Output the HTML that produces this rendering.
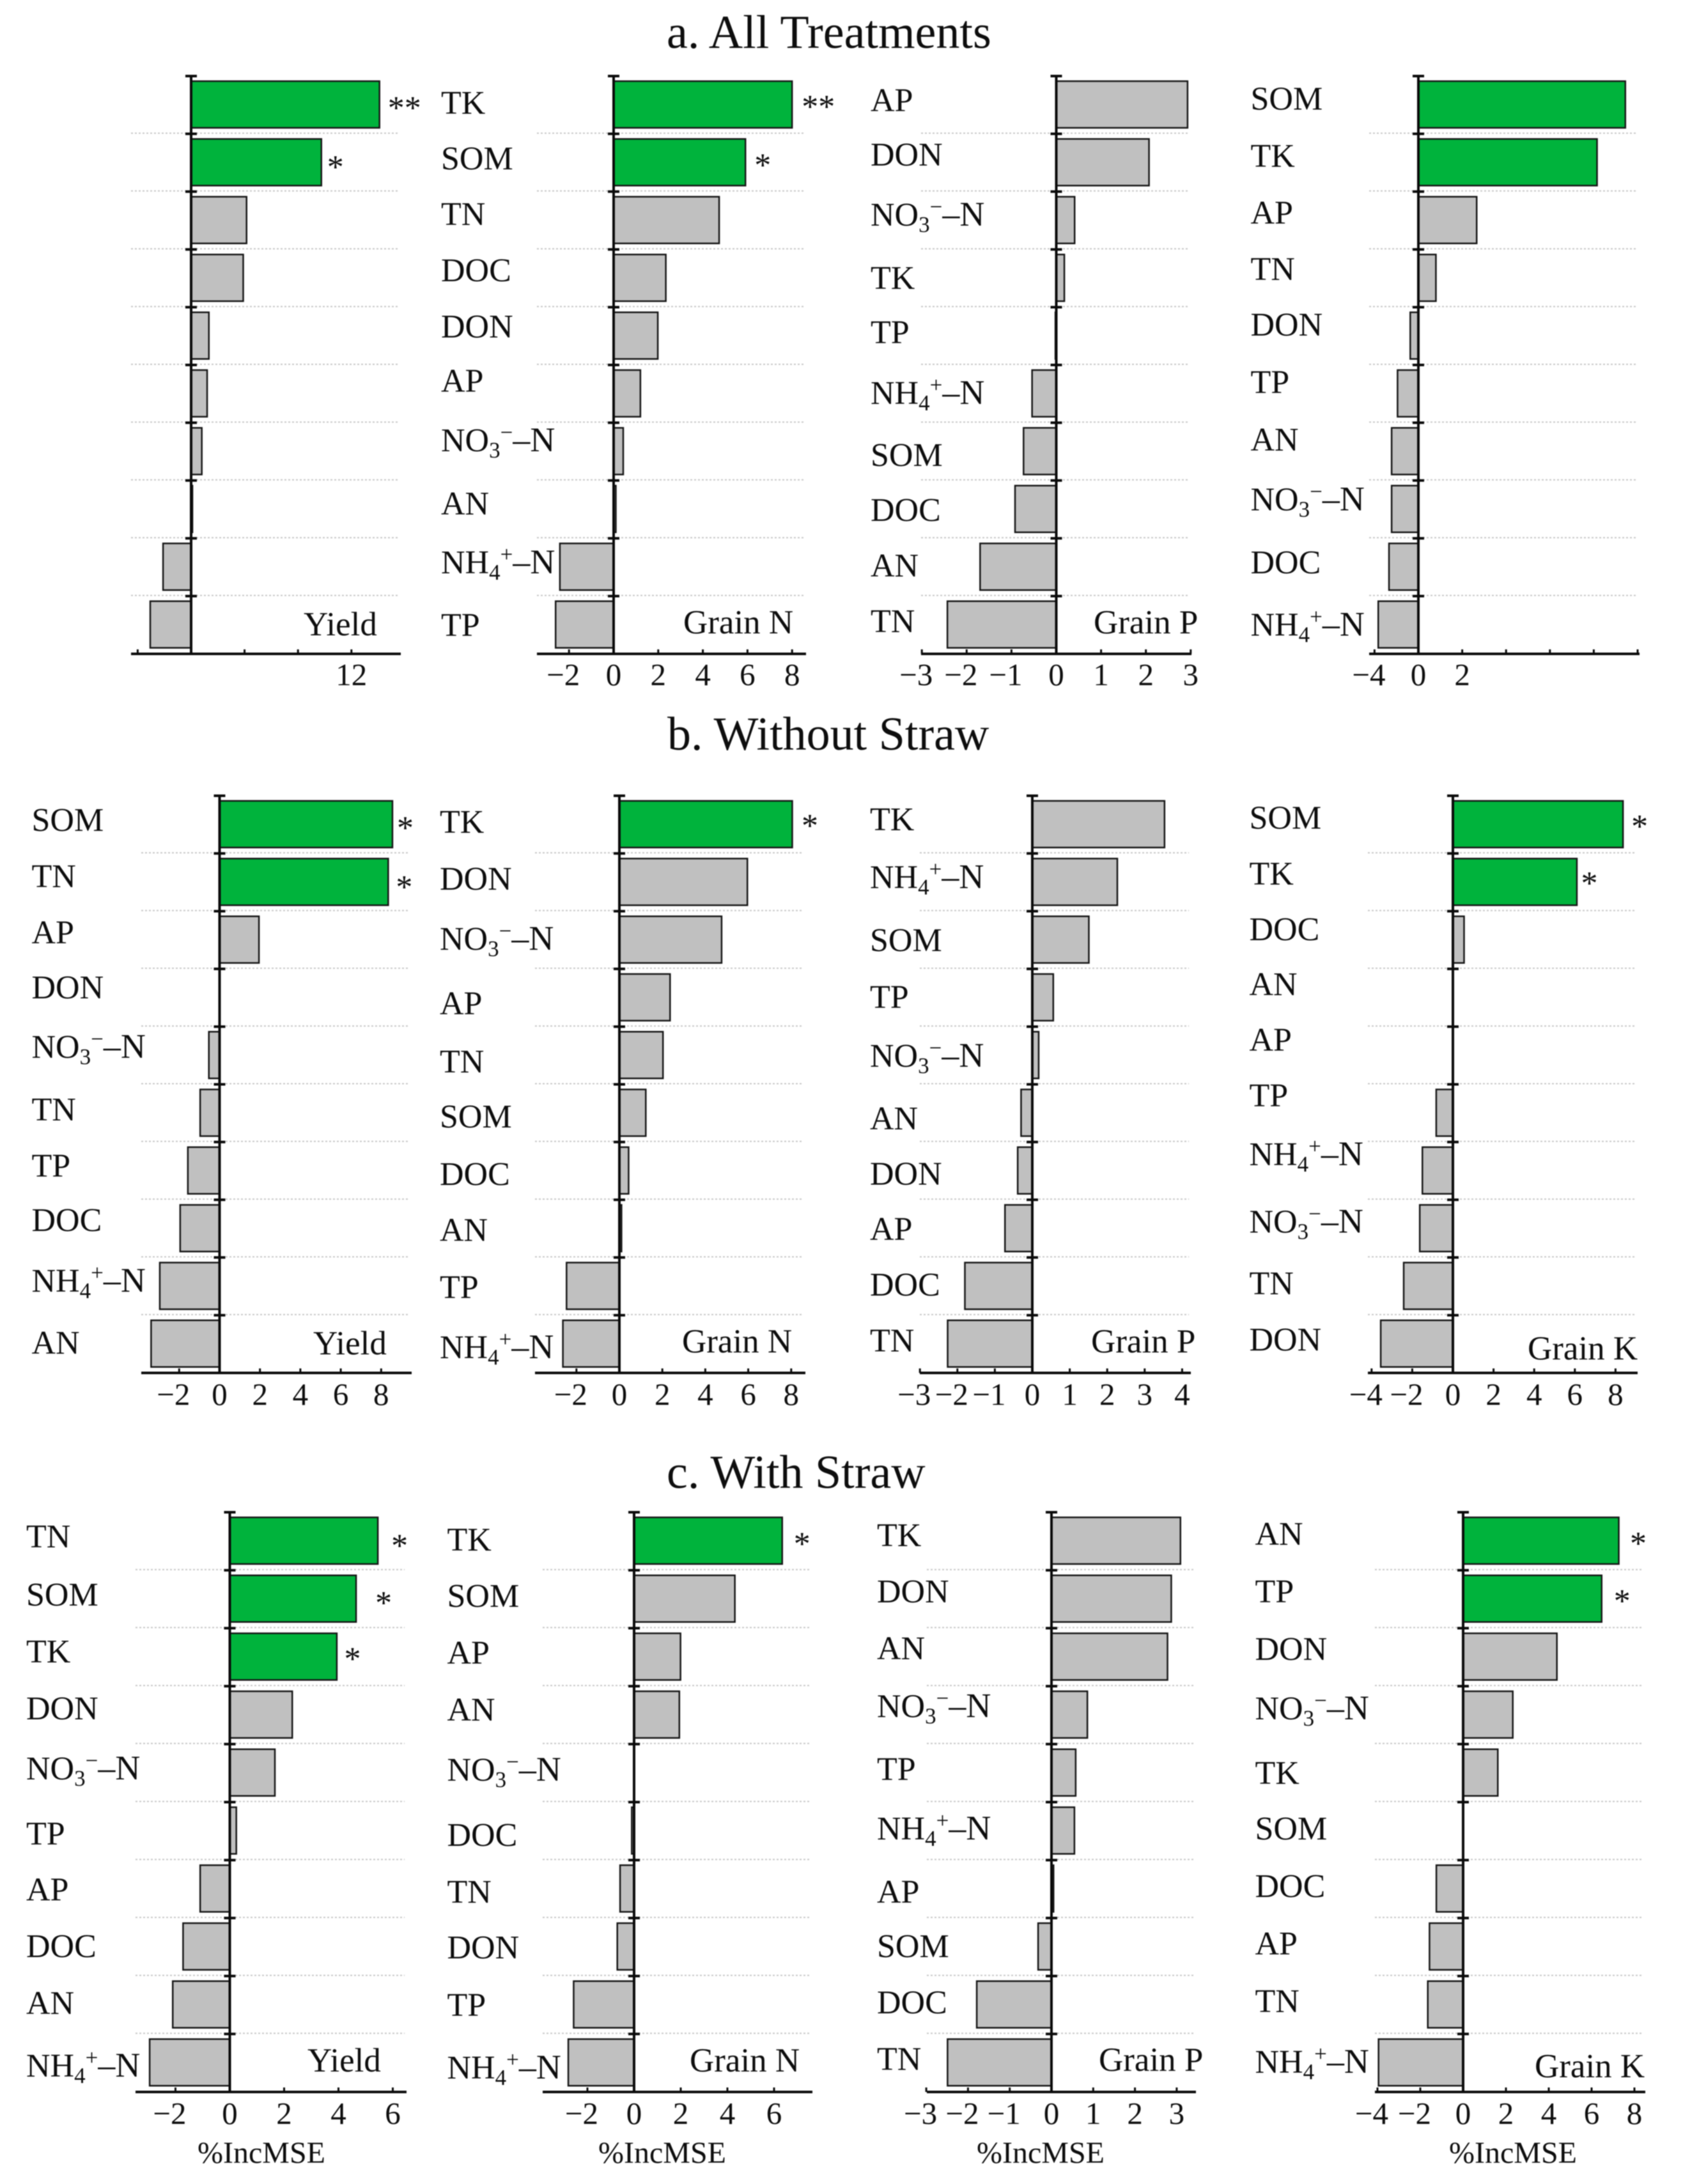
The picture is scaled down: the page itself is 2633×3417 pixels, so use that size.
<!DOCTYPE html>
<html lang="en">
<head>
<meta charset="utf-8">
<title>%IncMSE of soil properties</title>
<style>
html,body{margin:0;padding:0;background:#fff;}
#chart{display:block;filter:blur(0.7px);font-family:"Liberation Serif",serif;fill:#0d0d0d;}
</style>
</head>
<body>
<svg id="chart" xmlns="http://www.w3.org/2000/svg" width="2633" height="3417" viewBox="0 0 2633 3417">
<rect x="0" y="0" width="2633" height="3417" fill="#ffffff"/>
<text x="1043" y="75" font-size="74">a. All Treatments</text>
<text x="1044" y="1173" font-size="74">b. Without Straw</text>
<text x="1043" y="2328" font-size="74">c. With Straw</text>
</svg>
<script>
// ---------- Data: section a (All Treatments) ----------
const a1Categories = [];
const a1Values = [14.1, 9.75, 4.15, 3.9, 1.33, 1.2, 0.8, 0.1, -2.1, -3.06];
const a1Stars = ['**', '*', '', '', '', '', '', '', '', ''];
const a1Highlighted = [true, true, false, false, false, false, false, false, false, false];
const a1Ticks = [-4, 0, 4, 8, 12];
const a1TickLabels = ['', '', '', '', '12'];

const a2Categories = ['TK', 'SOM', 'TN', 'DOC', 'DON', 'AP', 'NO3-N', 'AN', 'NH4-N', 'TP'];
const a2Values = [8, 5.91, 4.73, 2.34, 1.98, 1.2, 0.43, 0.1, -2.41, -2.6];
const a2Stars = ['**', '*', '', '', '', '', '', '', '', ''];
const a2Highlighted = [true, true, false, false, false, false, false, false, false, false];
const a2Ticks = [-2, 0, 2, 4, 6, 8];
const a2TickLabels = ['\u22122', '0', '2', '4', '6', '8'];

const a3Categories = ['AP', 'DON', 'NO3-N', 'TK', 'TP', 'NH4-N', 'SOM', 'DOC', 'AN', 'TN'];
const a3Values = [2.93, 2.07, 0.41, 0.18, -0.02, -0.54, -0.73, -0.92, -1.7, -2.43];
const a3Stars = ['', '', '', '', '', '', '', '', '', ''];
const a3Highlighted = [false, false, false, false, false, false, false, false, false, false];
const a3Ticks = [-3, -2, -1, 0, 1, 2, 3];
const a3TickLabels = ['\u22123', '\u22122', '\u22121', '0', '1', '2', '3'];

const a4Categories = ['SOM', 'TK', 'AP', 'TN', 'DON', 'TP', 'AN', 'NO3-N', 'DOC', 'NH4-N'];
const a4Values = [9.44, 8.15, 2.66, 0.8, -0.37, -0.95, -1.22, -1.22, -1.34, -1.83];
const a4Stars = ['', '', '', '', '', '', '', '', '', ''];
const a4Highlighted = [true, true, false, false, false, false, false, false, false, false];
const a4Ticks = [-2, 0, 2, 4, 6, 8, 10];
const a4TickLabels = ['\u22124', '0', '2', '', '', '', ''];

// ---------- Data: section b (Without Straw) ----------
const b1Categories = ['SOM', 'TN', 'AP', 'DON', 'NO3-N', 'TN', 'TP', 'DOC', 'NH4-N', 'AN'];
const b1Values = [8.56, 8.35, 1.95, 0, -0.53, -0.96, -1.57, -1.95, -2.96, -3.39];
const b1Stars = ['*', '*', '', '', '', '', '', '', '', ''];
const b1Highlighted = [true, true, false, false, false, false, false, false, false, false];
const b1Ticks = [-2, 0, 2, 4, 6, 8];
const b1TickLabels = ['\u22122', '0', '2', '4', '6', '8'];

const b2Categories = ['TK', 'DON', 'NO3-N', 'AP', 'TN', 'SOM', 'DOC', 'AN', 'TP', 'NH4-N'];
const b2Values = [8.05, 5.96, 4.76, 2.36, 2.03, 1.23, 0.43, 0.1, -2.46, -2.63];
const b2Stars = ['*', '', '', '', '', '', '', '', '', ''];
const b2Highlighted = [true, false, false, false, false, false, false, false, false, false];
const b2Ticks = [-2, 0, 2, 4, 6, 8];
const b2TickLabels = ['\u22122', '0', '2', '4', '6', '8'];

const b3Categories = ['TK', 'NH4-N', 'SOM', 'TP', 'NO3-N', 'AN', 'DON', 'AP', 'DOC', 'TN'];
const b3Values = [3.53, 2.27, 1.51, 0.56, 0.17, -0.3, -0.39, -0.73, -1.8, -2.26];
const b3Stars = ['', '', '', '', '', '', '', '', '', ''];
const b3Highlighted = [false, false, false, false, false, false, false, false, false, false];
const b3Ticks = [-3, -2, -1, 0, 1, 2, 3, 4];
const b3TickLabels = ['\u22123', '\u22122', '\u22121', '0', '1', '2', '3', '4'];

const b4Categories = ['SOM', 'TK', 'DOC', 'AN', 'AP', 'TP', 'NH4-N', 'NO3-N', 'TN', 'DON'];
const b4Values = [8.37, 6.1, 0.55, 0, 0, -0.82, -1.5, -1.63, -2.42, -3.55];
const b4Stars = ['*', '*', '', '', '', '', '', '', '', ''];
const b4Highlighted = [true, true, false, false, false, false, false, false, false, false];
const b4Ticks = [-4, -2, 0, 2, 4, 6, 8];
const b4TickLabels = ['\u22124', '\u22122', '0', '2', '4', '6', '8'];

// ---------- Data: section c (With Straw) ----------
const c1Categories = ['TN', 'SOM', 'TK', 'DON', 'NO3-N', 'TP', 'AP', 'DOC', 'AN', 'NH4-N'];
const c1Values = [5.45, 4.65, 3.94, 2.3, 1.66, 0.24, -1.09, -1.72, -2.1, -2.95];
const c1Stars = ['*', '*', '*', '', '', '', '', '', '', ''];
const c1Highlighted = [true, true, true, false, false, false, false, false, false, false];
const c1Ticks = [-2, 0, 2, 4, 6];
const c1TickLabels = ['\u22122', '0', '2', '4', '6'];

const c2Categories = ['TK', 'SOM', 'AP', 'AN', 'NO3-N', 'DOC', 'TN', 'DON', 'TP', 'NH4-N'];
const c2Values = [6.35, 4.32, 1.99, 1.94, 0, -0.1, -0.6, -0.72, -2.59, -2.82];
const c2Stars = ['*', '', '', '', '', '', '', '', '', ''];
const c2Highlighted = [true, false, false, false, false, false, false, false, false, false];
const c2Ticks = [-2, 0, 2, 4, 6];
const c2TickLabels = ['\u22122', '0', '2', '4', '6'];

const c3Categories = ['TK', 'DON', 'AN', 'NO3-N', 'TP', 'NH4-N', 'AP', 'SOM', 'DOC', 'TN'];
const c3Values = [3.09, 2.87, 2.78, 0.86, 0.58, 0.55, 0.05, -0.32, -1.79, -2.49];
const c3Stars = ['', '', '', '', '', '', '', '', '', ''];
const c3Highlighted = [false, false, false, false, false, false, false, false, false, false];
const c3Ticks = [-3, -2, -1, 0, 1, 2, 3];
const c3TickLabels = ['\u22123', '\u22122', '\u22121', '0', '1', '2', '3'];

const c4Categories = ['AN', 'TP', 'DON', 'NO3-N', 'TK', 'SOM', 'DOC', 'AP', 'TN', 'NH4-N'];
const c4Values = [7.27, 6.47, 4.38, 2.32, 1.62, 0, -1.25, -1.57, -1.65, -3.95];
const c4Stars = ['*', '*', '', '', '', '', '', '', '', ''];
const c4Highlighted = [true, true, false, false, false, false, false, false, false, false];
const c4Ticks = [-4, -2, 0, 2, 4, 6, 8];
const c4TickLabels = ['\u22124', '\u22122', '0', '2', '4', '6', '8'];

// ---------- Layout (geometry only, separate from the data) ----------
const rowA = {top: 119, rowH: 90.4, tickBase: 1072};
const rowB = {top: 1245, rowH: 90.3, tickBase: 2198};
const rowC = {top: 2366, rowH: 90.7, tickBase: 3323};

const panels = [
  {id:'a-yield', row:rowA, cats:a1Categories, vals:a1Values, stars:a1Stars, hi:a1Highlighted, ticks:a1Ticks, tickText:a1TickLabels,
   zero:299, unit:20.9, left:205, right:627, labelX:690, labelY:[],
   title:'Yield', titleX:475, titleY:994, starShift:[[39,-2],[22,0]]},
  {id:'a-grain-n', row:rowA, cats:a2Categories, vals:a2Values, stars:a2Stars, hi:a2Highlighted, ticks:a2Ticks, tickText:a2TickLabels,
   zero:960, unit:34.9, left:840, right:1261, labelX:690, labelY:[178,265,352,440,528,613,706,805,897,995],
   title:'Grain N', titleX:1069, titleY:991, starShift:[[41,-4],[27,-3]]},
  {id:'a-grain-p', row:rowA, cats:a3Categories, vals:a3Values, stars:a3Stars, hi:a3Highlighted, ticks:a3Ticks, tickText:a3TickLabels,
   zero:1652.5, unit:70.1, left:1441, right:1864, labelX:1362, labelY:[174,259,353,452,537,632,729,815,902,989],
   title:'Grain P', titleX:1711, titleY:991, starShift:[]},
  {id:'a-grain-k', row:rowA, cats:a4Categories, vals:a4Values, stars:a4Stars, hi:a4Highlighted, ticks:a4Ticks, tickText:a4TickLabels,
   zero:2219, unit:34.3, left:2142, right:2565, labelX:1956.5, labelY:[171.5,261,350,438,525,615,705,798.5,897,994.5],
   title:'', titleX:0, titleY:0, starShift:[]},

  {id:'b-yield', row:rowB, cats:b1Categories, vals:b1Values, stars:b1Stars, hi:b1Highlighted, ticks:b1Ticks, tickText:b1TickLabels,
   zero:343.5, unit:31.6, left:221, right:644, labelX:49.5, labelY:[1300,1388,1476,1562,1655,1753,1841,1926,2021,2118],
   title:'Yield', titleX:490, titleY:2119, starShift:[[20,-1.5],[25,0.5]]},
  {id:'b-grain-n', row:rowB, cats:b2Categories, vals:b2Values, stars:b2Stars, hi:b2Highlighted, ticks:b2Ticks, tickText:b2TickLabels,
   zero:969, unit:33.6, left:837, right:1260, labelX:688, labelY:[1303,1392,1486,1587,1678,1764,1854,1941.5,2031,2125],
   title:'Grain N', titleX:1067, titleY:2116, starShift:[[27.5,-5]]},
  {id:'b-grain-p', row:rowB, cats:b3Categories, vals:b3Values, stars:b3Stars, hi:b3Highlighted, ticks:b3Ticks, tickText:b3TickLabels,
   zero:1615, unit:58.6, left:1439, right:1863, labelX:1361, labelY:[1299,1389.5,1488,1577,1669,1767,1853.6,1940,2027,2114.5],
   title:'Grain P', titleX:1707, titleY:2116, starShift:[]},
  {id:'b-grain-k', row:rowB, cats:b4Categories, vals:b4Values, stars:b4Stars, hi:b4Highlighted, ticks:b4Ticks, tickText:b4TickLabels,
   zero:2273, unit:31.8, left:2140, right:2562, labelX:1954.5, labelY:[1296.5,1384,1471,1557,1644,1731,1823,1928.5,2025,2113],
   title:'Grain K', titleX:2390, titleY:2127, starShift:[[26,-4],[19.5,-5.5]]},

  {id:'c-yield', row:rowC, cats:c1Categories, vals:c1Values, stars:c1Stars, hi:c1Highlighted, ticks:c1Ticks, tickText:c1TickLabels,
   zero:359.5, unit:42.5, left:212, right:636, labelX:41, labelY:[2421,2512,2601,2690,2784,2886,2973.5,3062,3151,3249],
   title:'Yield', titleX:481, titleY:3241, starShift:[[34,0],[43,-1],[24.5,-4.5]], xTitleX:309},
  {id:'c-grain-n', row:rowC, cats:c2Categories, vals:c2Values, stars:c2Stars, hi:c2Highlighted, ticks:c2Ticks, tickText:c2TickLabels,
   zero:992, unit:36.5, left:849, right:1271, labelX:699.5, labelY:[2426,2514,2603,2692,2786,2888,2977,3064,3154,3252],
   title:'Grain N', titleX:1079, titleY:3241, starShift:[[31,-3]], xTitleX:936},
  {id:'c-grain-p', row:rowC, cats:c3Categories, vals:c3Values, stars:c3Stars, hi:c3Highlighted, ticks:c3Ticks, tickText:c3TickLabels,
   zero:1645, unit:65.3, left:1450, right:1871, labelX:1372, labelY:[2419,2507,2596,2686.5,2785,2878,2977,3062,3150,3238.5],
   title:'Grain P', titleX:1719, titleY:3240, starShift:[], xTitleX:1528},
  {id:'c-grain-k', row:rowC, cats:c4Categories, vals:c4Values, stars:c4Stars, hi:c4Highlighted, ticks:c4Ticks, tickText:c4TickLabels,
   zero:2289, unit:33.5, left:2151, right:2574, labelX:1963.5, labelY:[2417,2507,2597,2690,2791,2878,2968,3058,3148,3243],
   title:'Grain K', titleX:2401, titleY:3250, starShift:[[30.5,-3.5],[32,-4]], xTitleX:2267}
];

const GREEN = '#00b33c';
const GREY = '#c0c0c0';
const INK = '#0a0a0a';
const NS = 'http://www.w3.org/2000/svg';
const svg = document.getElementById('chart');

function make(tag, attrs, parent) {
  const node = document.createElementNS(NS, tag);
  for (const k in attrs) node.setAttribute(k, attrs[k]);
  parent.appendChild(node);
  return node;
}

function addSpan(textNode, str, size, dy) {
  const s = make('tspan', {'font-size': size, dy: dy}, textNode);
  s.textContent = str;
}

function writeCategory(textNode, name) {
  if (name === 'NO3-N') {
    addSpan(textNode, 'NO', 52, 0);
    addSpan(textNode, '3', 35, 10);
    addSpan(textNode, '\u2212', 35, -28);
    addSpan(textNode, '\u2013N', 54, 18);
  } else if (name === 'NH4-N') {
    addSpan(textNode, 'NH', 52, 0);
    addSpan(textNode, '4', 35, 10);
    addSpan(textNode, '+', 35, -28);
    addSpan(textNode, '\u2013N', 54, 18);
  } else {
    textNode.textContent = name;
  }
}

panels.forEach(function (p) {
  const g = make('g', {}, svg);
  
  

  const xScale = function (v) { return p.zero + v * p.unit; };
  const yRow = function (i) { return p.row.top + i * p.row.rowH; };
  const axisY = yRow(10);

  // dotted row separators
  for (let i = 1; i < 10; i++) {
    const grid = make('line', {x1: p.left, x2: p.right - 3, y1: yRow(i) - 1, y2: yRow(i) - 1,
      stroke: '#c6c6c6', 'stroke-width': 2, 'stroke-dasharray': '3 3'}, g);
    
    
  }

  // bars
  p.vals.forEach(function (v, i) {
    const x0 = Math.min(xScale(v), p.zero);
    const w = Math.abs(xScale(v) - p.zero);
    const bar = make('rect', {x: x0, y: yRow(i) + 8, width: w, height: 73,
      fill: p.hi[i] ? GREEN : GREY, stroke: '#151515', 'stroke-width': 2.5}, g);
    
    
  });

  // y axis with category ticks
  const yAxis = make('line', {x1: p.zero, x2: p.zero, y1: p.row.top - 1, y2: axisY,
    stroke: INK, 'stroke-width': 4}, g);
  
  
  for (let i = 0; i < 10; i++) {
    const t = make('line', {x1: p.zero - 9, x2: p.zero + 9, y1: yRow(i), y2: yRow(i),
      stroke: INK, 'stroke-width': 4}, g);
    
    
  }

  // x axis
  const xAxis = make('line', {x1: p.left, x2: p.right, y1: axisY, y2: axisY,
    stroke: INK, 'stroke-width': 4}, g);
  
  

  p.ticks.forEach(function (t, i) {
    const tx = xScale(t);
    const mark = make('line', {x1: tx, x2: tx, y1: axisY - 7, y2: axisY,
      stroke: INK, 'stroke-width': 3}, g);
    
    
    const str = p.tickText[i];
    if (str) {
      const shift = str.charAt(0) === '\u2212' ? -9 : 0;
      const lab = make('text', {x: tx + shift, y: p.row.tickBase, 'font-size': 49, 'text-anchor': 'middle'}, g);
      lab.textContent = str;
      
      
    }
  });

  // category labels
  p.cats.forEach(function (name, i) {
    const lab = make('text', {x: p.labelX, y: p.labelY[i], 'font-size': 52}, g);
    writeCategory(lab, name);
    
    
  });

  // significance stars
  p.stars.forEach(function (s, i) {
    if (!s) return;
    const nudge = p.starShift[i];
    const sx = xScale(p.vals[i]) + nudge[0];
    const sy = yRow(i) + p.row.rowH / 2 + nudge[1] + 24;
    const star = make('text', {x: sx, y: sy, 'font-size': 52, 'text-anchor': 'middle'}, g);
    star.textContent = s;
    
    
  });

  // panel response title
  if (p.title) {
    const title = make('text', {x: p.titleX, y: p.titleY, 'font-size': 53}, g);
    title.textContent = p.title;
    
    
  }

  // x axis title
  if (p.xTitleX) {
    const xt = make('text', {x: p.xTitleX, y: 3384, 'font-size': 48}, g);
    xt.textContent = '%IncMSE';
    
    
  }
});
</script>
</body>
</html>
